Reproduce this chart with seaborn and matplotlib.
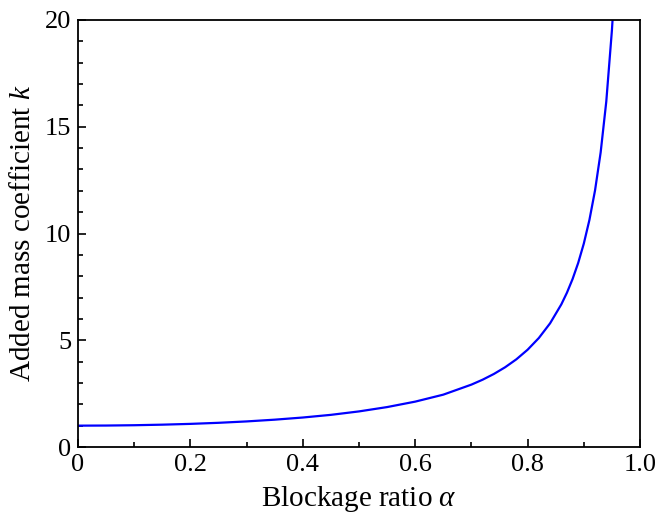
import numpy as np
import pandas as pd
import matplotlib
matplotlib.use("Agg")
import matplotlib.pyplot as plt
import seaborn as sns
from matplotlib.ticker import MultipleLocator

# values
alpha = [0.0, 0.05, 0.1, 0.15, 0.2, 0.25, 0.3, 0.35, 0.4, 0.45, 0.5, 0.55,
         0.6, 0.65, 0.7, 0.72, 0.74, 0.76, 0.78, 0.8, 0.82, 0.84, 0.86,
         0.87, 0.88, 0.89, 0.9, 0.91, 0.92, 0.93, 0.94, 0.95, 0.952]
k = [1.0, 1.005, 1.02, 1.046, 1.083, 1.133, 1.198, 1.28, 1.381, 1.506, 1.667, 1.87,
     2.125, 2.452, 2.922, 3.153, 3.421, 3.735, 4.107, 4.556, 5.105, 5.793, 6.68,
     7.227, 7.865, 8.62, 9.526, 10.635, 12.02, 13.8, 16.18, 19.51, 20.35]

df = pd.DataFrame({"alpha": alpha, "k": k})

sns.set_style("ticks")
plt.rcParams["font.family"] = ["Liberation Serif", "DejaVu Serif"]
plt.rcParams["mathtext.fontset"] = "custom"
plt.rcParams["mathtext.it"] = "Liberation Serif:italic"
plt.rcParams["mathtext.rm"] = "Liberation Serif"
plt.rcParams["text.color"] = "black"
plt.rcParams["axes.labelcolor"] = "black"
plt.rcParams["xtick.color"] = "black"
plt.rcParams["ytick.color"] = "black"

fig = plt.figure(figsize=(6.56, 5.17), dpi=100)
ax = fig.add_axes([78 / 656, 1 - 447 / 517, 562 / 656, 427 / 517])

sns.lineplot(data=df, x="alpha", y="k", color="#0000FF", linewidth=1.6, ax=ax)

ax.set_xlim(0, 1.0)
ax.set_ylim(0, 20)
ax.set_xticks([0, 0.2, 0.4, 0.6, 0.8, 1.0])
ax.set_xticklabels(["0", "0.2", "0.4", "0.6", "0.8", "1.0"])
ax.set_yticks([0, 5, 10, 15, 20])
ax.xaxis.set_minor_locator(MultipleLocator(0.1))
ax.yaxis.set_minor_locator(MultipleLocator(1))
ax.tick_params(which="both", direction="in", top=False, right=False, labelsize=19, width=1.2)
ax.tick_params(which="major", length=6, pad=5)
ax.tick_params(which="minor", length=3.5)
for s in ax.spines.values():
    s.set_linewidth(1.3)
    s.set_color("black")

ax.set_xlabel(r"Blockage ratio $\mathit{\alpha}$", fontsize=21, labelpad=6)
ax.set_ylabel(r"Added mass coefficient $\mathit{k}$", fontsize=21, labelpad=6)

fig.savefig("out.png", dpi=100)
